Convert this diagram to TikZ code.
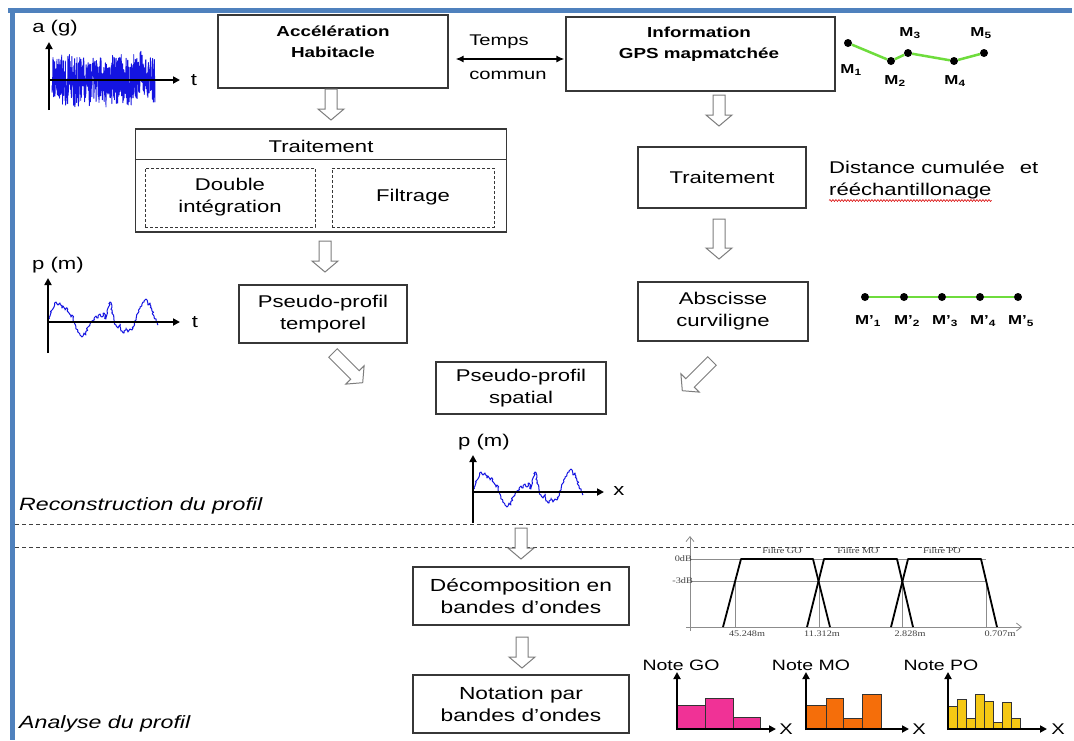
\documentclass[tikz,border=0pt]{standalone}
\usepackage{fontspec}
\setmainfont{Liberation Sans}[FakeStretch=1.3]
\newfontfamily\plotfont{Liberation Serif}[FakeStretch=1.2]
\usetikzlibrary{arrows.meta,calc,decorations.pathmorphing}
\definecolor{borderblue}{RGB}{79,129,189}
\definecolor{boxline}{RGB}{55,55,55}
\definecolor{arrowgray}{RGB}{125,125,125}
\definecolor{sigblue}{RGB}{20,20,225}
\definecolor{linegreen}{RGB}{110,220,60}
\definecolor{gopink}{RGB}{240,50,150}
\definecolor{moorange}{RGB}{245,110,10}
\definecolor{poyellow}{RGB}{245,200,20}
\tikzset{
  box/.style={draw=boxline, line width=1.1pt, fill=white, inner sep=0pt, align=center, font=\fontsize{17}{22}\selectfont},
  lbl/.style={inner sep=0pt, align=center, font=\fontsize{17}{22}\selectfont},
  slbl/.style={inner sep=0pt, align=center, font=\fontsize{15.5}{20}\selectfont},
  blbl/.style={inner sep=0pt, align=center, font=\fontsize{14.5}{21}\selectfont\bfseries},
  mlbl/.style={inner sep=0pt, font=\fontsize{13}{15}\selectfont\bfseries},
  plbl/.style={inner sep=0pt, font=\fontsize{8.5}{10}\plotfont, text=black!75},
  ital/.style={inner sep=0pt, anchor=west, font=\fontsize{17.8}{22}\selectfont\itshape},
  dbox/.style={draw=boxline, line width=0.8pt, dash pattern=on 3pt off 2pt, inner sep=0pt, align=center, font=\fontsize{17}{22}\selectfont},
  blk/.style={draw=arrowgray, line width=1pt, fill=white, line join=miter},
  sep/.style={draw=black!75, line width=0.9pt, dash pattern=on 4pt off 3pt},
  axisarrow/.style={draw=black, line width=1.8pt, -{Triangle[length=7pt,width=7pt]}},
  gaxis/.style={draw=black!45, line width=0.8pt, -{Straight Barb[length=5pt,width=8pt]}},
  gline/.style={draw=black!45, line width=0.6pt},
  trap/.style={draw=black, line width=1.8pt, line join=round},
  bar/.style={draw=black!80, line width=0.8pt},
  dot/.style={circle, fill=black, inner sep=0pt, minimum size=8pt},
  gps/.style={draw=linegreen, line width=2.5pt},
  sig/.style={draw=sigblue, line width=1pt, line join=round},
  pics/blkarrow/.style={code={\draw[blk] (-6,0) -- (6,0) -- (6,#1-11) -- (13,#1-11) -- (0,#1) -- (-13,#1-11) -- (-6,#1-11) -- cycle;}},
  pics/wave/.style={code={\pgfmathsetseed{77}\draw[sig, decorate, decoration={random steps, segment length=1.6pt, amplitude=1.1pt}] plot coordinates {(0,0) (2,-6) (4,-12) (6,-15) (8,-20) (10,-17) (12,-19) (14,-14) (15,-16) (17,-12) (19,-14) (21,-9) (23,-5) (24,-7) (26,0) (28,5) (30,9) (32,13) (34,15) (36,11) (38,13) (40,5) (42,2) (44,-1) (46,-3) (48,-6) (50,-4) (52,-8) (54,-5) (56,-9) (58,-3) (60,-14) (62,-20) (64,-12) (66,-2) (68,3) (70,6) (72,2) (74,9) (76,11) (78,6) (80,10) (82,7) (84,8) (86,4) (88,-2) (90,-9) (92,-15) (94,-18) (96,-20) (98,-23) (100,-17) (102,-19) (104,-11) (106,-6) (108,-1) (110,3)};}},
  pics/noise/.style={code={\pgfmathsetseed{4242}\draw[sig, line width=0.9pt] plot[domain=0:103, samples=520, variable=\t] (\t,{rand*(16+13*abs(rand))});}},
}
\begin{document}
\begin{tikzpicture}[x=1pt,y=-1pt]
\useasboundingbox (0,0) rectangle (1074,740);
\fill[white] (0,0) rectangle (1074,740);
% frame
\draw[borderblue, line width=4.5pt] (8,10.5) -- (1072,10.5);
\draw[borderblue, line width=4.5pt] (12.5,8.5) -- (12.5,740);
% separators
\draw[sep] (15,524) -- (1074,524);
\draw[sep] (15,547) -- (1074,547);

% ---------- top boxes ----------
\node[box, minimum width=230pt, minimum height=73pt] (acc) at (333,51.5) {};
\node[blbl] (acct) at (333,42) {Accélération\\Habitacle};
\node[box, minimum width=269pt, minimum height=74pt] (info) at (700.5,54) {};
\node[blbl] (infot) at (699,44) {Information\\GPS mapmatchée};
\draw[black, line width=1.6pt, {Latex[length=8pt,width=7pt]}-{Latex[length=8pt,width=7pt]}] ($(acc.east)+(7,7.5)$) -- ($(info.west)+(-1,5)$);
\node[slbl] (temps) at (499,42) {Temps};
\node[slbl] (commun) at (508,75) {commun};

% GPS points
\node[dot] (m1) at (848,43) {};
\node[dot] (m2) at (891,61) {};
\node[dot] (m3) at (908,53) {};
\node[dot] (m4) at (954,61) {};
\node[dot] (m5) at (984,53) {};
\draw[gps] (m1) -- (m2) -- (m3) -- (m4) -- (m5);
\node[mlbl] (lm1) at (851,70) {M\textsubscript{1}};
\node[mlbl] (lm2) at (895,81) {M\textsubscript{2}};
\node[mlbl] (lm3) at (910,33) {M\textsubscript{3}};
\node[mlbl] (lm4) at (955,81) {M\textsubscript{4}};
\node[mlbl] (lm5) at (981,33) {M\textsubscript{5}};

% a(g) signal
\node[lbl] (ag) at (55,28) {a (g)};
\pic at (52,80) {noise};
\draw[axisarrow] (49,110) -- (49,42);
\draw[axisarrow] (49,80) -- (180,80);
\node[lbl] (t1) at (194,80) {t};

% ---------- left column ----------
\pic at (331,89) {blkarrow=31};
\node[box, minimum width=371pt, minimum height=103pt] (trait1) at (321,180.5) {};
\draw[boxline, line width=1.1pt] ($(trait1.north west)+(0,31)$) -- ($(trait1.north east)+(0,31)$);
\node[lbl] (trait1t) at (321,146) {Traitement};
\node[dbox, minimum width=170pt, minimum height=59pt] (dbl) at (230,197.5) {Double\\intégration};
\node[dbox, minimum width=162pt, minimum height=59pt] (filt) at (413,197.5) {Filtrage};
\pic at (325,241) {blkarrow=31};
\node[box, minimum width=168pt, minimum height=58pt] (temporel) at (323,314) {Pseudo-profil\\temporel};

% p(m) temporal
\node[lbl] (pm1) at (58,265) {p (m)};
\pic at (48,322) {wave};
\draw[axisarrow] (48,353) -- (48,278);
\draw[axisarrow] (48,322) -- (180,322);
\node[lbl] (t2) at (195,322) {t};

% ---------- right column ----------
\pic at (719,95) {blkarrow=31};
\node[box, minimum width=168pt, minimum height=61pt] (trait2) at (722,177.5) {Traitement};
\node[lbl, anchor=west] (dist) at (829,167) {Distance cumulée\hspace{9pt} et};
\node[lbl, anchor=west] (rech) at (829,191) {rééchantillonage};
\draw[red!85!black, line width=0.6pt, decorate, decoration={snake, amplitude=0.9pt, segment length=3pt}] ($(rech.base west)+(0,5)$) -- ($(rech.base east)+(0,5)$);
\pic at (719,219) {blkarrow=40};
\node[box, minimum width=170pt, minimum height=59pt] (absc) at (723,311.5) {Abscisse\\curviligne};

% M' points
\node[dot] (n1) at (865,297) {};
\node[dot] (n2) at (904,297) {};
\node[dot] (n3) at (942,297) {};
\node[dot] (n4) at (980,297) {};
\node[dot] (n5) at (1018,297) {};
\draw[gps] (n1) -- (n2) -- (n3) -- (n4) -- (n5);
\node[mlbl] (ln1) at (868,321) {M’\textsubscript{1}};
\node[mlbl] (ln2) at (907,321) {M’\textsubscript{2}};
\node[mlbl] (ln3) at (945,321) {M’\textsubscript{3}};
\node[mlbl] (ln4) at (983,321) {M’\textsubscript{4}};
\node[mlbl] (ln5) at (1021,321) {M’\textsubscript{5}};

% diagonal arrows
\pic[rotate=45] at (333,353) {blkarrow=42};
\pic[rotate=-45] at (712,361) {blkarrow=42};

% spatial
\node[box, minimum width=170pt, minimum height=52pt] (spatial) at (521,388) {Pseudo-profil\\spatial};
\node[lbl] (pm2) at (484,442) {p (m)};
\pic at (473,492) {wave};
\draw[axisarrow] (473,523) -- (473,455);
\draw[axisarrow] (473,492) -- (604,492);
\node[lbl] (xs) at (619,491) {x};

\node[ital] (recon) at (19,506) {Reconstruction du profil};
\node[ital] (analyse) at (19,724) {Analyse du profil};

% ---------- analysis ----------
\pic at (521,528) {blkarrow=31};
\node[box, minimum width=216pt, minimum height=58pt, font=\fontsize{17.5}{22}\selectfont] (decomp) at (521,596) {Décomposition en\\bandes d’ondes};
\pic at (522,637) {blkarrow=31};
\node[box, minimum width=216pt, minimum height=58pt, font=\fontsize{17.5}{22}\selectfont] (notation) at (521,704) {Notation par\\bandes d’ondes};

% filter plot
\draw[gline] (690,559) -- (986,559);
\draw[gline] (690,581) -- (986,581);
\foreach \xx in {735,819,902,986} \draw[gline] (\xx,581) -- (\xx,627);
\draw[gaxis] (690,631) -- (690,536);
\draw[gaxis] (686,627) -- (1022,627);
\draw[trap] (723,627) -- (741,559) -- (813,559) -- (830,627);
\draw[trap] (807,627) -- (824,559) -- (897,559) -- (913,627);
\draw[trap] (891,627) -- (908,559) -- (981,559) -- (997,627);
\node[plbl, anchor=east] (db0) at (692,559) {0dB};
\node[plbl, anchor=east] (db3) at (693,581) {-3dB};
\node[plbl] (f1) at (747,634) {45.248m};
\node[plbl] (f2) at (822,634) {11.312m};
\node[plbl] (f3) at (910,634) {2.828m};
\node[plbl] (f4) at (1000,634) {0.707m};
\node[plbl] (fgo) at (782,551) {Filtre GO};
\node[plbl] (fmo) at (858,551) {Filtre MO};
\node[plbl] (fpo) at (942,551) {Filtre PO};

% bar charts
\node[slbl, font=\fontsize{15}{18}\selectfont] (ngo) at (681,665) {Note GO};
\draw[bar, fill=gopink] (677,729) rectangle (705,705);
\draw[bar, fill=gopink] (705,729) rectangle (733,698);
\draw[bar, fill=gopink] (733,729) rectangle (760,717);
\draw[axisarrow] (677,730) -- (677,672);
\draw[axisarrow] (677,729) -- (776,729);
\node[slbl] (xgo) at (786,729) {X};

\node[slbl, font=\fontsize{15}{18}\selectfont] (nmo) at (811,665) {Note MO};
\draw[bar, fill=moorange] (806,729) rectangle (826,705);
\draw[bar, fill=moorange] (826,729) rectangle (843,698);
\draw[bar, fill=moorange] (843,729) rectangle (862,718);
\draw[bar, fill=moorange] (862,729) rectangle (881,694);
\draw[axisarrow] (806,730) -- (806,672);
\draw[axisarrow] (806,729) -- (909,729);
\node[slbl] (xmo) at (919,729) {X};

\node[slbl, font=\fontsize{15}{18}\selectfont] (npo) at (941,665) {Note PO};
\draw[bar, fill=poyellow] (948,729) rectangle (957,706);
\draw[bar, fill=poyellow] (957,729) rectangle (966,699);
\draw[bar, fill=poyellow] (966,729) rectangle (975,718);
\draw[bar, fill=poyellow] (975,729) rectangle (984,694);
\draw[bar, fill=poyellow] (984,729) rectangle (993,701);
\draw[bar, fill=poyellow] (993,729) rectangle (1002,722);
\draw[bar, fill=poyellow] (1002,729) rectangle (1011,702);
\draw[bar, fill=poyellow] (1011,729) rectangle (1020,718);
\draw[axisarrow] (948,730) -- (948,672);
\draw[axisarrow] (948,729) -- (1047,729);
\node[slbl] (xpo) at (1058,729) {X};
\end{tikzpicture}
\end{document}
